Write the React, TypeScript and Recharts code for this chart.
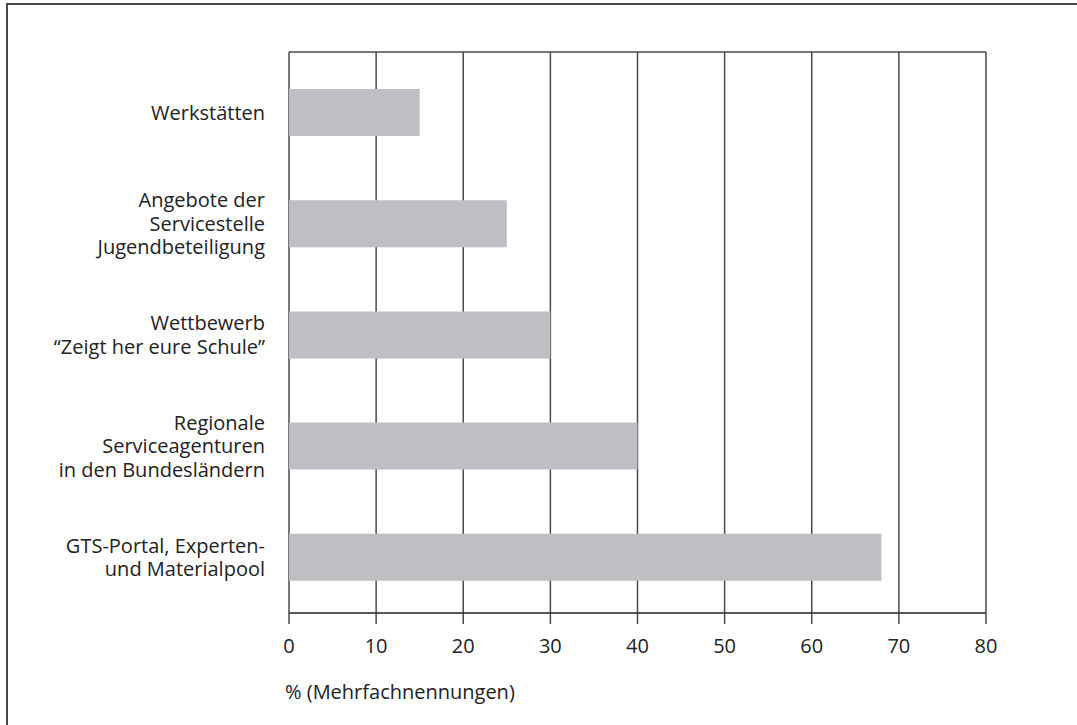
import { BarChart, Bar, XAxis, YAxis, CartesianGrid, Label } from "recharts";

// categories (top to bottom), "\n" marks a line break in the label
const categories = [
  "Werkstätten",
  "Angebote der\nServicestelle\nJugendbeteiligung",
  "Wettbewerb\n“Zeigt her eure Schule”",
  "Regionale\nServiceagenturen\nin den Bundesländern",
  "GTS-Portal, Experten-\nund Materialpool",
];

// share of mentions in %
const shares = [15, 25, 30, 40, 68];

const xTicks = [0, 10, 20, 30, 40, 50, 60, 70, 80];

const axisTitle = "% (Mehrfachnennungen)";

const data = categories.map((name, i) => ({ name, value: shares[i] }));

const FONT = "'Open Sans', 'Noto Sans', sans-serif";
const TEXT = "#222";
const LINE = "#4a4a4a";

// multi-line category label, right aligned and centred on the band
const CategoryTick = (props: any) => {
  const { x, y, payload } = props;
  const lines: string[] = String(payload.value).split("\n");
  const lh = 23.5;
  const start = -((lines.length - 1) / 2) * lh;
  return (
    <text
      x={x}
      y={y}
      textAnchor="end"
      fill={TEXT}
      fontSize={20}
      fontFamily={FONT}
    >
      {lines.map((l, i) => (
        <tspan key={i} x={x} dy={i === 0 ? start + 7 : lh}>
          {l}
        </tspan>
      ))}
    </text>
  );
};

const AxisTitle = (props: any) => {
  const { viewBox } = props;
  return (
    <text
      x={viewBox.x - 4}
      y={viewBox.y + 86}
      fill={TEXT}
      fontSize={20}
      fontFamily={FONT}
    >
      {axisTitle}
    </text>
  );
};

export default function App() {
  return (
    <div
      style={{
        position: "absolute",
        left: 0,
        top: 0,
        width: 1077,
        height: 725,
        overflow: "hidden",
        background: "#fff",
      }}
    >
      {/* outer frame: only left and top edges are visible in the picture */}
      <div
        style={{
          position: "absolute",
          left: 6,
          top: 3,
          width: 1100,
          height: 800,
          borderLeft: `2px solid ${LINE}`,
          borderTop: `2px solid ${LINE}`,
        }}
      />
      <div style={{ position: "absolute", left: 0, top: 0 }}>
        <BarChart
          width={1077}
          height={725}
          data={data}
          layout="vertical"
          margin={{ top: 52, right: 91, bottom: 0, left: 0 }}
          barCategoryGap={0}
        >
          {/* vertical grid lines plus the top edge of the plot frame */}
          <CartesianGrid
            horizontal={true}
            vertical={true}
            horizontalCoordinatesGenerator={({ offset }: any) => [offset.top]}
            stroke={LINE}
            strokeWidth={1.5}
          />
          <XAxis
            type="number"
            domain={[0, 80]}
            ticks={xTicks}
            interval={0}
            height={112}
            tickSize={11}
            tickMargin={15}
            axisLine={{ stroke: "#222", strokeWidth: 1.5 }}
            tickLine={{ stroke: LINE, strokeWidth: 1.5 }}
            tick={{ fill: TEXT, fontSize: 20, fontFamily: FONT }}
          >
            <Label content={<AxisTitle />} />
          </XAxis>
          <YAxis
            type="category"
            dataKey="name"
            width={289}
            padding={{ top: 5, bottom: 0 }}
            axisLine={false}
            tickLine={false}
            tickSize={0}
            tickMargin={24}
            interval={0}
            tick={<CategoryTick />}
          />
          <Bar
            dataKey="value"
            fill="#bebfc3"
            barSize={47}
            isAnimationActive={false}
          />
        </BarChart>
      </div>
    </div>
  );
}
